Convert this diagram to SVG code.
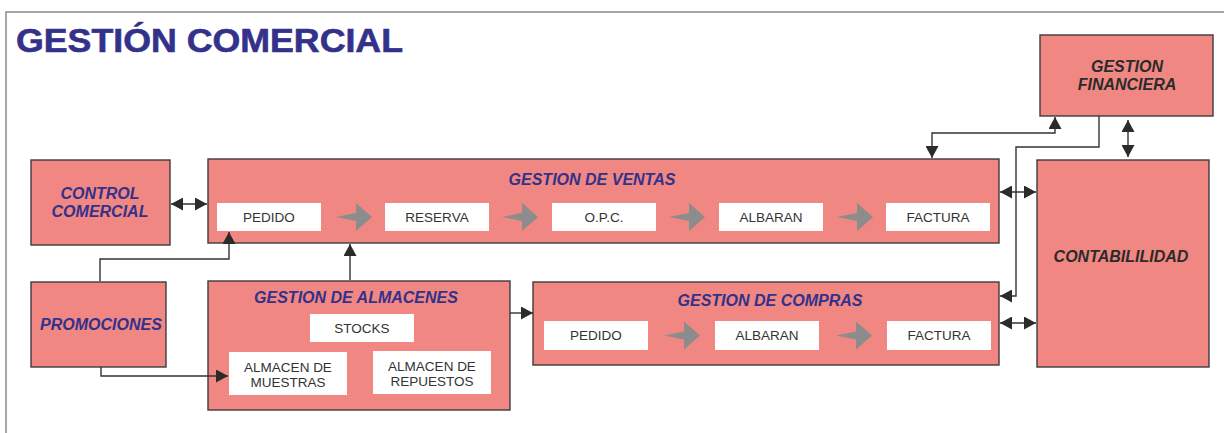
<svg xmlns="http://www.w3.org/2000/svg" width="1224" height="433" viewBox="0 0 1224 433">
<style>
.box{fill:#f08782;stroke:#3c3c3c;stroke-width:1.4}
.wb{fill:#ffffff}
.t{font-family:"Liberation Sans",Arial,sans-serif;font-size:13.5px;fill:#333333;text-anchor:middle}
.h{font-family:"Liberation Sans",Arial,sans-serif;font-size:16px;font-weight:bold;font-style:italic;fill:#33318a;text-anchor:middle}
.hd{font-family:"Liberation Sans",Arial,sans-serif;font-size:16px;font-weight:bold;font-style:italic;fill:#2b2b2b;text-anchor:middle}
.c{fill:none;stroke:#333333;stroke-width:1.4}
.ga{fill:#8c8c8c}
</style>
<defs>
<marker id="ah" markerUnits="userSpaceOnUse" markerWidth="12" markerHeight="13" refX="12" refY="6.5" orient="auto-start-reverse">
<path d="M0,0 L12,6.5 L0,13 z" fill="#2b2b2b"/>
</marker>
<path id="garrow" d="M0,0 L20,-4 L20,-14 L36,0 L20,14 L20,4 z"/>
</defs>

<path d="M6,433 V12 H1224" fill="none" stroke="#8a8a8a" stroke-width="1.5"/>
<text x="16" y="52" font-family="'Liberation Sans',Arial,sans-serif" font-size="33" font-weight="bold" fill="#33318a" stroke="#33318a" stroke-width="0.6" textLength="387" lengthAdjust="spacingAndGlyphs">GESTIÓN COMERCIAL</text>

<g id="gestion-financiera">
<rect class="box" x="1040" y="35" width="173" height="81"/>
<text class="hd" x="1127" y="72">GESTION</text>
<text class="hd" x="1127" y="90">FINANCIERA</text>
</g>

<g id="contabilidad">
<rect class="box" x="1037" y="160" width="172" height="207"/>
<text class="hd" x="1121" y="262">CONTABILILIDAD</text>
</g>

<g id="control-comercial">
<rect class="box" x="31" y="160" width="139" height="85"/>
<text class="h" x="100" y="199">CONTROL</text>
<text class="h" x="100" y="217">COMERCIAL</text>
</g>

<g id="promociones">
<rect class="box" x="31" y="282" width="135" height="85"/>
<text class="h" x="101" y="330">PROMOCIONES</text>
</g>

<g id="gestion-ventas">
<rect class="box" x="208" y="159" width="791" height="84"/>
<text class="h" x="592" y="185">GESTION DE VENTAS</text>
<rect class="wb" x="217" y="203" width="104" height="28"/>
<text class="t" x="269" y="222">PEDIDO</text>
<rect class="wb" x="385" y="203" width="104" height="28"/>
<text class="t" x="437" y="222">RESERVA</text>
<rect class="wb" x="552" y="203" width="104" height="28"/>
<text class="t" x="604" y="222">O.P.C.</text>
<rect class="wb" x="719" y="203" width="104" height="28"/>
<text class="t" x="771" y="222">ALBARAN</text>
<rect class="wb" x="886" y="203" width="104" height="28"/>
<text class="t" x="938" y="222">FACTURA</text>
<use href="#garrow" class="ga" x="336" y="217"/>
<use href="#garrow" class="ga" x="502" y="217"/>
<use href="#garrow" class="ga" x="669" y="217"/>
<use href="#garrow" class="ga" x="837" y="217"/>
</g>

<g id="gestion-almacenes">
<rect class="box" x="208" y="281" width="302" height="129"/>
<text class="h" x="356" y="303">GESTION DE ALMACENES</text>
<rect class="wb" x="310" y="314" width="104" height="28"/>
<text class="t" x="362" y="333">STOCKS</text>
<rect class="wb" x="229" y="352" width="118" height="43"/>
<text class="t" x="288" y="371.5">ALMACEN DE</text>
<text class="t" x="288" y="386.5">MUESTRAS</text>
<rect class="wb" x="373" y="351" width="118" height="43"/>
<text class="t" x="432" y="371">ALMACEN DE</text>
<text class="t" x="432" y="386">REPUESTOS</text>
</g>

<g id="gestion-compras">
<rect class="box" x="533" y="282" width="466" height="83"/>
<text class="h" x="770" y="306">GESTION DE COMPRAS</text>
<rect class="wb" x="544" y="321" width="104" height="29"/>
<text class="t" x="596" y="340">PEDIDO</text>
<rect class="wb" x="715" y="321" width="104" height="29"/>
<text class="t" x="767" y="340">ALBARAN</text>
<rect class="wb" x="887" y="321" width="104" height="29"/>
<text class="t" x="939" y="340">FACTURA</text>
<use href="#garrow" class="ga" x="664" y="335.5"/>
<use href="#garrow" class="ga" x="836" y="335.5"/>
</g>

<g id="connectors">
<path class="c" d="M171,204 H207" marker-start="url(#ah)" marker-end="url(#ah)"/>
<path class="c" d="M100,281 V259 H229 V232" marker-end="url(#ah)"/>
<path class="c" d="M350,280 V244" marker-end="url(#ah)"/>
<path class="c" d="M101,367 V376 H228" marker-end="url(#ah)"/>
<path class="c" d="M510,313 H533" marker-end="url(#ah)"/>
<path class="c" d="M1128,120 V157" marker-start="url(#ah)" marker-end="url(#ah)"/>
<path class="c" d="M932,158 V133 H1055 V117" marker-start="url(#ah)" marker-end="url(#ah)"/>
<path class="c" d="M1099,116 V147 H1016 V296 H1000" marker-end="url(#ah)"/>
<path class="c" d="M1000,192 H1036" marker-start="url(#ah)" marker-end="url(#ah)"/>
<path class="c" d="M1000,323 H1036" marker-start="url(#ah)" marker-end="url(#ah)"/>
</g>
</svg>
